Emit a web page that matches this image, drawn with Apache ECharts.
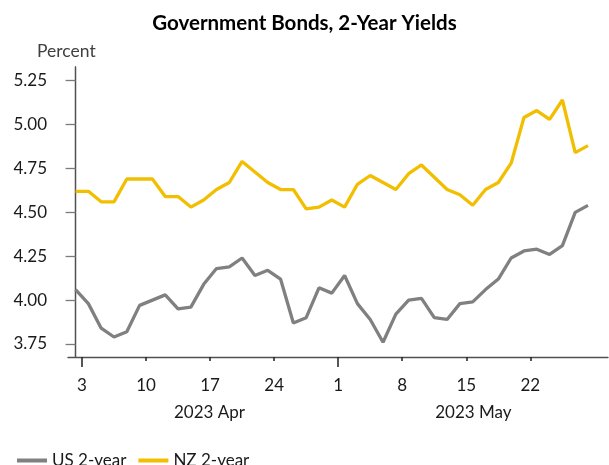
<!DOCTYPE html>
<html>
<head>
<meta charset="utf-8">
<script src="https://cdn.jsdelivr.net/npm/echarts@6/dist/echarts.min.js"></script>
<style>
html,body{margin:0;padding:0;background:#fff;}
#chart{width:609px;height:465px;}
</style>
</head>
<body>
<div id="chart"></div>
<script>
// Business-day dates of the observations
const dates = [
  "2023-03-31",
  "2023-04-03","2023-04-04","2023-04-05","2023-04-06","2023-04-07",
  "2023-04-10","2023-04-11","2023-04-12","2023-04-13","2023-04-14",
  "2023-04-17","2023-04-18","2023-04-19","2023-04-20","2023-04-21",
  "2023-04-24","2023-04-25","2023-04-26","2023-04-27","2023-04-28",
  "2023-05-01","2023-05-02","2023-05-03","2023-05-04","2023-05-05",
  "2023-05-08","2023-05-09","2023-05-10","2023-05-11","2023-05-12",
  "2023-05-15","2023-05-16","2023-05-17","2023-05-18","2023-05-19",
  "2023-05-22","2023-05-23","2023-05-24","2023-05-25","2023-05-26"
];
const us2y = [4.06,3.98,3.84,3.79,3.82,3.97,4.00,4.03,3.95,3.96,
              4.09,4.18,4.19,4.24,4.14,4.17,4.12,3.87,3.90,4.07,
              4.04,4.14,3.98,3.89,3.76,3.92,4.00,4.01,3.90,3.89,
              3.98,3.99,4.06,4.12,4.24,4.28,4.29,4.26,4.31,4.50,4.54];
const nz2y = [4.62,4.62,4.56,4.56,4.69,4.69,4.69,4.59,4.59,4.53,
              4.57,4.63,4.67,4.79,4.73,4.67,4.63,4.63,4.52,4.53,
              4.57,4.53,4.66,4.71,4.67,4.63,4.72,4.77,4.70,4.63,
              4.60,4.54,4.63,4.67,4.78,5.04,5.08,5.03,5.14,4.84,4.88];
const yTicks = [3.75, 4.00, 4.25, 4.50, 4.75, 5.00, 5.25];
const monthLabels = ["2023 Apr", "2023 May"];
const seriesNames = ["US 2-year", "NZ 2-year"];

// weekly tick positions: boundary before each Monday
const weekPos = [], weekLab = {}, monthStartPos = [];
dates.forEach((d, i) => {
  const dt = new Date(d + "T12:00:00Z");
  if (dt.getUTCDay() === 1) {
    const p = i - 0.5;
    weekPos.push(p);
    weekLab[p.toFixed(2)] = String(dt.getUTCDate());
    if (dt.getUTCDate() <= 7) monthStartPos.push(p);
  }
});
const monthPos = [10.45, 31.05];
const monthLab = {};
monthPos.forEach((p, k) => { monthLab[p.toFixed(2)] = monthLabels[k]; });

const FONT = "Lato";
const axisColor = "#7a7a7a";
const chart = echarts.init(document.getElementById("chart"), null, {renderer: "canvas"});
const xMin = -0.59, xMax = 41.56;
chart.setOption({
  animation: false,
  backgroundColor: "#fff",
  title: {
    text: "Government Bonds, 2-Year Yields",
    left: "center", top: 8,
    textStyle: {fontFamily: FONT, fontWeight: "bold", fontSize: 20.5, color: "#000"}
  },
  graphic: [{
    type: "text", left: 37, top: 42,
    style: {text: "Percent", fontFamily: FONT, fontSize: 17.5, fill: "#404040"}
  }],
  legend: {
    left: 12, top: 447, itemWidth: 30, itemHeight: 4, itemGap: 12, icon: "rect",
    textStyle: {fontFamily: FONT, fontSize: 17, color: "#1a1a1a"},
    data: seriesNames
  },
  grid: {left: 68, right: 1, top: 67, bottom: 108, containLabel: false},
  xAxis: [{
    type: "value", min: xMin, max: xMax,
    axisLine: {show: true, lineStyle: {color: "#505050", width: 1.3}},
    axisTick: {show: true, customValues: weekPos, length: 4, lineStyle: {color: "#202020", width: 1.5}},
    axisLabel: {
      customValues: weekPos, margin: 20,
      fontFamily: FONT, fontSize: 17, color: "#1a1a1a",
      formatter: v => weekLab[Number(v).toFixed(2)] || ""
    },
    splitLine: {show: false}
  }, {
    type: "value", min: xMin, max: xMax, position: "bottom",
    axisLine: {show: false},
    axisTick: {show: true, customValues: monthStartPos, length: 10, lineStyle: {color: "#202020", width: 1.5}},
    axisLabel: {
      customValues: monthPos, margin: 47,
      fontFamily: FONT, fontSize: 17, color: "#1a1a1a",
      formatter: v => monthLab[Number(v).toFixed(2)] || ""
    },
    splitLine: {show: false}
  }],
  yAxis: [{
    type: "value", min: 3.676, max: 5.328,
    axisLine: {show: true, lineStyle: {color: axisColor, width: 1.3}},
    axisTick: {show: true, customValues: yTicks, length: 10, lineStyle: {color: axisColor, width: 1.3}},
    axisLabel: {
      customValues: yTicks, margin: 21,
      fontFamily: FONT, fontSize: 17, color: "#1a1a1a",
      formatter: v => Number(v).toFixed(2)
    },
    splitLine: {show: false}
  }, {
    type: "value", min: 3.676, max: 5.328, position: "right",
    axisLine: {show: true, lineStyle: {color: "#505050", width: 1.3}},
    axisTick: {show: false}, axisLabel: {show: false}, splitLine: {show: false}
  }],
  series: [{
    name: seriesNames[0], type: "line", xAxisIndex: 0, yAxisIndex: 0,
    data: us2y.map((v, i) => [i, v]),
    showSymbol: false, symbol: "none",
    lineStyle: {color: "#808080", width: 3.3},
    itemStyle: {color: "#808080"}
  }, {
    name: seriesNames[1], type: "line", xAxisIndex: 0, yAxisIndex: 0,
    data: nz2y.map((v, i) => [i, v]),
    showSymbol: false, symbol: "none",
    lineStyle: {color: "#F2BE00", width: 3.3},
    itemStyle: {color: "#F2BE00"}
  }]
});
</script>
</body>
</html>
